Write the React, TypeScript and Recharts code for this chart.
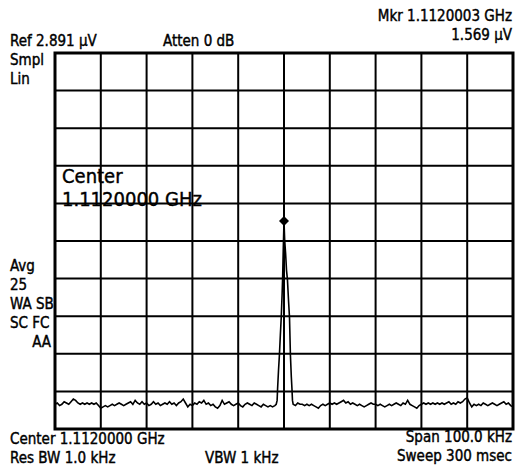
import { LineChart, Line, XAxis, YAxis, CartesianGrid, ReferenceDot, ReferenceArea } from "recharts";

// sweep: -50 kHz .. +50 kHz around 1.1120000 GHz, amplitude in µV (linear)
const xTicks = [-50, -40, -30, -20, -10, 0, 10, 20, 30, 40, 50];
const yTicks = [0, 0.2891, 0.5782, 0.8673, 1.1564, 1.4455, 1.7346, 2.0237, 2.3128, 2.6019, 2.891];

// noise floor left of the carrier, -50 .. -2 kHz every 0.5 kHz
const noiseLeft = [
  0.19, 0.2, 0.18, 0.19, 0.21, 0.2, 0.19, 0.21, 0.23, 0.22,
  0.2, 0.19, 0.2, 0.19, 0.2, 0.19, 0.2, 0.19, 0.2, 0.18,
  0.16, 0.17, 0.18, 0.17, 0.18, 0.19, 0.18, 0.19, 0.2, 0.19,
  0.18, 0.19, 0.2, 0.21, 0.19, 0.22, 0.2, 0.19, 0.21, 0.19,
  0.2, 0.18, 0.19, 0.21, 0.19, 0.2, 0.18, 0.19, 0.2, 0.19,
  0.21, 0.19, 0.2, 0.18, 0.2, 0.21, 0.23, 0.2, 0.17, 0.19,
  0.18, 0.2, 0.19, 0.21, 0.2, 0.22, 0.19, 0.2, 0.18, 0.19,
  0.17, 0.16, 0.18, 0.22, 0.19, 0.2, 0.21, 0.19, 0.18, 0.19,
  0.2, 0.18, 0.17, 0.19, 0.2, 0.19, 0.18, 0.2, 0.19, 0.18,
  0.17, 0.19, 0.18, 0.17, 0.18, 0.17, 0.18,
];

// the carrier itself
const peakFreq = [-1.7, -1.5, -1.4, -1.2, -1.0, -0.8, -0.6, -0.4, -0.3, -0.15, 0, 0.15, 0.35, 0.55, 0.75, 1.0, 1.2, 1.4, 1.6, 1.75, 1.85];
const peakAmp = [0.19, 0.22, 0.31, 0.45, 0.57, 0.72, 0.86, 1.05, 1.16, 1.4, 1.6, 1.45, 1.35, 1.22, 1.15, 0.98, 0.86, 0.57, 0.4, 0.3, 0.22];

// noise floor right of the carrier, 2 .. 50 kHz every 0.5 kHz
const noiseRight = [
  0.19, 0.18, 0.2, 0.19, 0.19, 0.18, 0.19, 0.18, 0.19, 0.18,
  0.17, 0.16, 0.18, 0.19, 0.18, 0.19, 0.2, 0.19, 0.2, 0.19,
  0.2, 0.21, 0.22, 0.2, 0.21, 0.19, 0.2, 0.19, 0.18, 0.19,
  0.18, 0.17, 0.18, 0.19, 0.2, 0.19, 0.19, 0.18, 0.19, 0.18,
  0.17, 0.18, 0.19, 0.18, 0.19, 0.2, 0.19, 0.18, 0.2, 0.19,
  0.22, 0.19, 0.18, 0.17, 0.16, 0.18, 0.19, 0.2, 0.19, 0.2,
  0.19, 0.2, 0.19, 0.2, 0.19, 0.2, 0.19, 0.2, 0.21, 0.19,
  0.2, 0.19, 0.21, 0.2, 0.21, 0.23, 0.24, 0.2, 0.17, 0.19,
  0.18, 0.19, 0.18, 0.2, 0.19, 0.18, 0.19, 0.2, 0.19, 0.18,
  0.19, 0.2, 0.21, 0.19, 0.2, 0.18, 0.17,
];

const markerFreq = 0;
const markerAmp = 1.6;

const data = [
  ...noiseLeft.map((v, i) => ({ f: -50 + i * 0.5, v })),
  ...peakFreq.map((f, i) => ({ f, v: peakAmp[i] })),
  ...noiseRight.map((v, i) => ({ f: 2 + i * 0.5, v })),
];

const font = '"DejaVu Sans Condensed", "DejaVu Sans", sans-serif';

function Label({ x, y, right, size = 15, children }: any) {
  const style: any = {
    position: "absolute",
    top: y,
    fontFamily: font,
    fontSize: size,
    lineHeight: size + "px",
    whiteSpace: "nowrap",
    color: "#000",
    WebkitTextStroke: "0.4px #000",
  };
  if (right !== undefined) style.right = right;
  else style.left = x;
  return <div style={style}>{children}</div>;
}

const diamond = (p: any) => (
  <path d={`M${p.cx},${p.cy - 5} L${p.cx + 5},${p.cy} L${p.cx},${p.cy + 5} L${p.cx - 5},${p.cy} Z`} fill="#000" />
);

export default function App() {
  return (
    <div style={{ position: "absolute", left: 0, top: 0, width: 517, height: 466, background: "#fff", overflow: "hidden" }}>
      <LineChart width={517} height={466} data={data} margin={{ top: 53, right: 4, bottom: 37, left: 55 }}>
        <XAxis dataKey="f" type="number" domain={[-50, 50]} ticks={xTicks} hide allowDataOverflow />
        <YAxis type="number" domain={[0, 2.891]} ticks={yTicks} hide allowDataOverflow />
        <CartesianGrid stroke="#000" strokeWidth={2} />
        <ReferenceArea x1={-50} x2={50} y1={0} y2={2.891} fill="none" stroke="#000" strokeWidth={3} />
        <Line dataKey="v" type="linear" stroke="#000" strokeWidth={1.6} dot={false} isAnimationActive={false} />
        <ReferenceDot x={markerFreq} y={markerAmp} shape={diamond} />
      </LineChart>

      <Label x={10} y={34}>Ref 2.891 µV</Label>
      <Label x={163} y={34}>Atten 0 dB</Label>
      <Label right={5} y={9}>Mkr 1.1120003 GHz</Label>
      <Label right={5} y={28}>1.569 µV</Label>
      <Label x={10} y={53}>Smpl</Label>
      <Label x={10} y={72}>Lin</Label>

      <Label x={62} y={166} size={20}>Center</Label>
      <Label x={62} y={189} size={20}>1.1120000 GHz</Label>

      <Label x={10} y={259}>Avg</Label>
      <Label x={10} y={278}>25</Label>
      <Label x={10} y={297}>WA SB</Label>
      <Label x={10} y={316}>SC FC</Label>
      <Label right={466} y={335}>AA</Label>

      <Label x={10} y={432}>Center 1.1120000 GHz</Label>
      <Label x={10} y={451}>Res BW 1.0 kHz</Label>
      <Label x={205} y={451}>VBW 1 kHz</Label>
      <Label right={5} y={430}>Span 100.0 kHz</Label>
      <Label right={5} y={449}>Sweep 300 msec</Label>
    </div>
  );
}
